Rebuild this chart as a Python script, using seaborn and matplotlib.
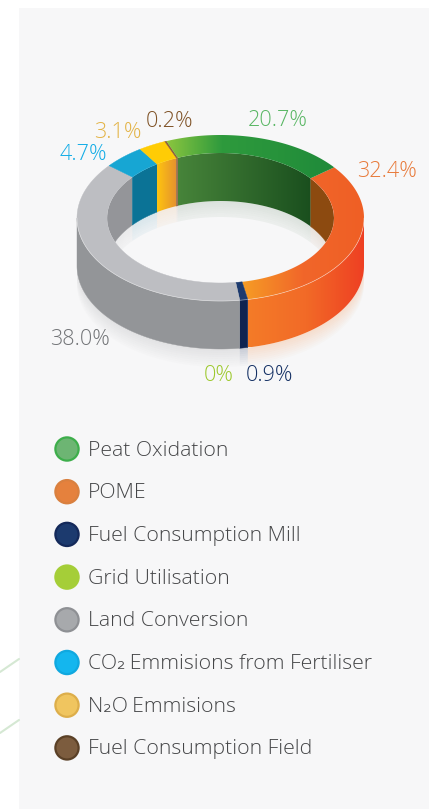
import numpy as np
import pandas as pd
import matplotlib
matplotlib.use("Agg")
import matplotlib.pyplot as plt
from matplotlib.colors import LinearSegmentedColormap
from matplotlib.patches import Polygon, Rectangle
import seaborn as sns

# data, in ring order going clockwise from the peat / POME edge
ring_names = ["POME", "Fuel Consumption Mill", "Grid Utilisation", "Land Conversion",
              "CO2 Emmisions from Fertiliser", "N2O Emmisions", "Fuel Consumption Field", "Peat Oxidation"]
ring_values = [32.4, 0.9, 0.0, 38.0, 4.7, 3.1, 0.2, 20.7]
ring_labels = ["32.4%", "0.9%", "0%", "38.0%", "4.7%", "3.1%", "0.2%", "20.7%"]
label_colors = ["#E87A3A", "#132F63", "#9CC82C", "#727477", "#12ACE6", "#E3B345", "#7F5226", "#58B663"]

legend_names = ["Peat Oxidation", "POME", "Fuel Consumption Mill", "Grid Utilisation", "Land Conversion",
                "CO₂\u2009Emmisions from Fertiliser", "N₂O\u2009Emmisions", "Fuel Consumption Field"]
legend_fill = ["#6DB573", "#E5813D", "#1C3A6E", "#A5CE38", "#A7A9AC", "#14B6EE", "#F0C55F", "#7C5C3E"]
legend_edge = ["#3DAE4B", "#D9803F", "#14295A", "#A5CE38", "#8E9094", "#10A8DF", "#DDAE4A", "#5A4026"]

top_colors = [["#F69D25", "#F1662A", "#EF5F25"], ["#1C3A6E"], ["#A6CE39"], ["#BDBEC2"],
              ["#17A6D3"], ["#FFCC05"], ["#8B5E3C"], ["#8CC63F", "#2E9A3D", "#27933B", "#1F8A3A"]]
wall_colors = [["#F47B28", "#F26A27", "#EE3F23"], ["#0F2350"], ["#A6CE39"], ["#939598"],
               ["#939598"], ["#FFC40F"], ["#8B5E3C"], ["#1F6B2A"]]
inner_colors = [["#8C4A10"], ["#0F2350"], ["#A6CE39"], ["#949599"],
                ["#0B7396"], ["#FFC40F", "#E39030"], ["#8B5E3C"], ["#47843A", "#1A4F1E"]]

CX, CY = 220.5, 218
RX, RY = 143.5, 83
IRX, IRY = 113.5, 65
DEPTH = 48
START = 37.6

sns.set_theme(style="white")
plt.rcParams['font.family'] = ['Open Sans', 'DejaVu Sans']

fig = plt.figure(figsize=(4.35, 8.09), dpi=100)
ax = fig.add_axes([0, 0, 1, 1])


def arc(a0, a1, rx, ry, dy=0):
    t = np.radians(np.linspace(a0, a1, 80))
    return np.column_stack([CX + rx * np.cos(t), CY - ry * np.sin(t) + dy])


def fill(pts, colors, clip=None, zorder=3):
    # flat polygon or a left to right gradient clipped to the polygon
    if len(colors) == 1:
        p = Polygon(pts, closed=True, fc=colors[0], ec=colors[0], lw=0.3, zorder=zorder)
        ax.add_patch(p)
        if clip is not None:
            p.set_clip_path(clip)
        return
    cmap = LinearSegmentedColormap.from_list("g", colors)
    x0, x1 = pts[:, 0].min(), pts[:, 0].max()
    im = ax.imshow(np.linspace(0, 1, 256).reshape(1, -1), cmap=cmap, aspect='auto',
                   extent=[x0, x1, pts[:, 1].max(), pts[:, 1].min()], zorder=zorder)
    im.set_clip_path(Polygon(pts, closed=True, transform=ax.transData))


def overlap(a0, a1, lo, hi):
    a0, a1 = a0 % 360, a1 % 360
    if a0 < a1:
        a0 += 360
    out = []
    for shift in (-360, 0, 360):
        h, l = min(a0, hi + shift), max(a1, lo + shift)
        if h > l:
            out.append((h, l))
    return out


# page, panel and the two faint lines on the left
ax.add_patch(Rectangle((19, 8), 410, 801, fc="#F7F7F8", ec="none", zorder=0))
ax.plot([0, 19], [672, 659], color="#D5E8D3", lw=1.5, zorder=1)
ax.plot([0, 19], [733, 720], color="#D5E8D3", lw=1.5, zorder=1)

angles = START - np.cumsum([0] + ring_values) / sum(ring_values) * 360
hole = Polygon(arc(0, 360, IRX, IRY), closed=True, transform=ax.transData)

for i in range(len(ring_values)):
    a0, a1 = angles[i], angles[i + 1]
    if ring_values[i] == 0:
        continue
    # soft mirror under the front wall
    for h, l in overlap(a0, a1, 180, 360):
        lower = arc(h, l, RX, RY, DEPTH)
        for k in range(9):
            band = np.vstack([lower + [0, 2 * k], (lower + [0, 2 * k + 2])[::-1]])
            ax.add_patch(Polygon(band, closed=True, fc=wall_colors[i][0], ec="none",
                                 alpha=0.2 * (1 - k / 9), zorder=2))
    # front wall
    for h, l in overlap(a0, a1, 180, 360):
        pts = np.vstack([arc(h, l, RX, RY), arc(l, h, RX, RY, DEPTH)])
        fill(pts, wall_colors[i], zorder=3)
    # inner wall and its mirror, both inside the hole
    for h, l in overlap(a0, a1, 0, 180):
        fill_pts = np.vstack([arc(h, l, IRX, IRY), arc(l, h, IRX, IRY, DEPTH)])
        low = arc(h, l, IRX, IRY, DEPTH)
        for k in range(8):
            band = np.vstack([low + [0, 2 * k], (low + [0, 2 * k + 2])[::-1]])
            p = Polygon(band, closed=True, fc=inner_colors[i][-1], ec="none",
                        alpha=0.12 * (1 - k / 12), zorder=2.5)
            ax.add_patch(p)
            p.set_clip_path(hole)
        fill(fill_pts, inner_colors[i], clip=hole, zorder=3)

# top face
for i in range(len(ring_values)):
    if ring_values[i] == 0:
        continue
    a0, a1 = angles[i], angles[i + 1]
    pts = np.vstack([arc(a0, a1, RX, RY), arc(a1, a0, IRX, IRY)])
    fill(pts, top_colors[i], zorder=5)

# thin light rim along the front
ax.plot(*arc(180, 360, RX, RY).T, color="white", lw=0.5, alpha=0.5, zorder=6)

# value labels
label_x = [387, 269, 219, 80, 83, 118, 170, 278]
label_y = [171, 375, 375, 339, 154, 132, 121, 120]
for x, y, s, c in zip(label_x, label_y, ring_labels, label_colors):
    ax.text(x, y, s, color=c, fontsize=15.6, fontweight='light', ha='center', va='center', zorder=7)

# legend dots and names
df = pd.DataFrame({"name": legend_names, "row": range(len(legend_names))})
df["x"] = 67
df["y"] = 449 + df["row"] * 42.7
sns.scatterplot(data=df, x="x", y="y", hue="name", palette=legend_fill, s=280, linewidth=1.6,
                edgecolor=legend_edge, legend=False, ax=ax, zorder=7)
for _, r in df.iterrows():
    ax.text(88, r["y"] + 1.5, r["name"], color="#454648", fontsize=15.35, fontweight='light',
            ha='left', va='center', zorder=7)

ax.set_xlim(0, 435)
ax.set_ylim(809, 0)
ax.axis('off')
fig.savefig("out.png", dpi=100, facecolor="white")
